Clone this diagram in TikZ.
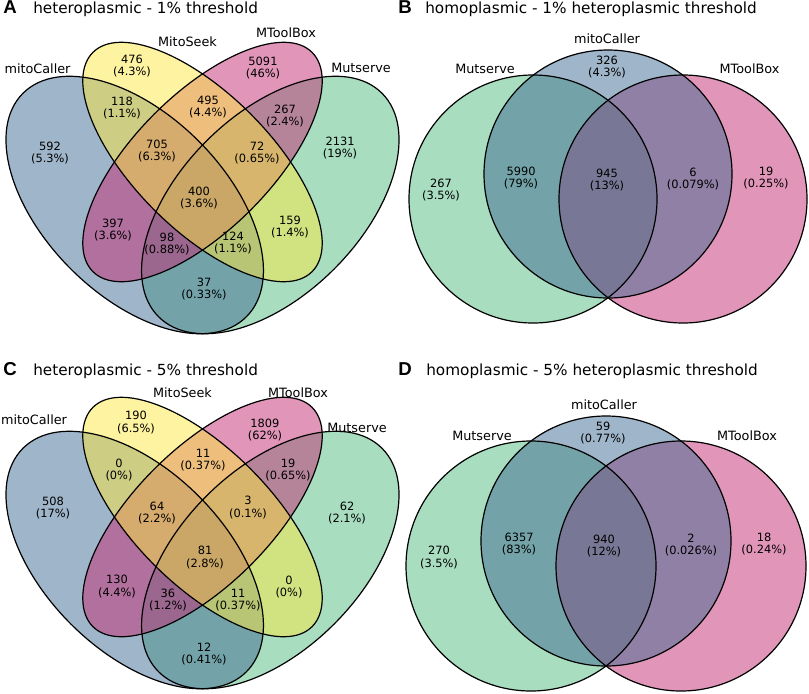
\documentclass[tikz,border=0pt]{standalone}
\usepackage{fontspec}
\setmainfont{DejaVu Sans}
\newfontfamily\letrafont{Liberation Sans}
\definecolor{verde}{RGB}{81,187,129}
\definecolor{azul}{RGB}{63,107,147}
\definecolor{rosa}{RGB}{195,45,115}
\definecolor{amarillo}{RGB}{251,231,65}
\begin{document}
\begin{tikzpicture}[x=0.75pt,y=0.75pt,
  borde/.style={black,line width=0.9pt},
  relleno/.style={fill opacity=0.5},
  cuenta/.style={font=\fontsize{8.55}{9.1}\selectfont,align=center,inner sep=0pt},
  nombre/.style={font=\fontsize{9.6}{10}\selectfont,inner sep=0pt},
  titulo/.style={font=\fontsize{11.45}{12}\selectfont,anchor=base west,inner sep=0pt},
  letra/.style={font=\letrafont\bfseries\fontsize{14}{14}\selectfont,anchor=base west,inner sep=0pt}]
\useasboundingbox (0,0) rectangle (809,-693);
% Elipses (A y C)
\foreach \dy in {0,355} {
  \fill[verde,relleno,rotate around={45:(270.3,-205-\dy)}] (270.3,-205-\dy) ellipse [x radius=158,y radius=90.4];
  \fill[azul,relleno,rotate around={-45:(134.7,-205-\dy)}] (134.7,-205-\dy) ellipse [x radius=158,y radius=90.4];
  \fill[rosa,relleno,rotate around={45:(202.5,-162-\dy)}] (202.5,-162-\dy) ellipse [x radius=155,y radius=68];
  \fill[amarillo,relleno,rotate around={-45:(202.5,-162-\dy)}] (202.5,-162-\dy) ellipse [x radius=155,y radius=68];
  % bordes
  \draw[borde,rotate around={45:(270.3,-205-\dy)}] (270.3,-205-\dy) ellipse [x radius=158,y radius=90.4];
  \draw[borde,rotate around={-45:(134.7,-205-\dy)}] (134.7,-205-\dy) ellipse [x radius=158,y radius=90.4];
  \draw[borde,rotate around={45:(202.5,-162-\dy)}] (202.5,-162-\dy) ellipse [x radius=155,y radius=68];
  \draw[borde,rotate around={-45:(202.5,-162-\dy)}] (202.5,-162-\dy) ellipse [x radius=155,y radius=68];
}
% Circulos (B y D)
\foreach \dx/\dy/\r in {0/0/124,-2/367/125} {
  \fill[verde,relleno] (533+\dx,-199-\dy) circle (\r);
  \fill[rosa,relleno] (683+\dx,-199-\dy) circle (\r);
  \fill[azul,relleno] (608+\dx,-174-\dy) circle (\r);
  \draw[borde] (533+\dx,-199-\dy) circle (\r);
  \draw[borde] (683+\dx,-199-\dy) circle (\r);
  \draw[borde] (608+\dx,-174-\dy) circle (\r);
}
% Titulos
\node[letra] (letA) at (3,-13) {A};
\node[titulo] (titA) at (33,-13) {heteroplasmic - 1\% threshold};
\node[letra] (letB) at (398,-13) {B};
\node[titulo] (titB) at (425,-13) {homoplasmic - 1\% heteroplasmic threshold};
\node[letra] (letC) at (3,-375) {C};
\node[titulo] (titC) at (33,-375) {heteroplasmic - 5\% threshold};
\node[letra] (letD) at (398,-375) {D};
\node[titulo] (titD) at (426,-375) {homoplasmic - 5\% heteroplasmic threshold};
% Nombres
\node[nombre] (A-mc) at (37.5,-69) {mitoCaller};
\node[nombre] (A-ms) at (187.5,-42) {MitoSeek};
\node[nombre] (A-mt) at (286,-33) {MToolBox};
\node[nombre] (A-mu) at (361,-68) {Mutserve};
\node[nombre] (B-mc) at (607,-39) {mitoCaller};
\node[nombre] (B-mu) at (485,-69) {Mutserve};
\node[nombre] (B-mt) at (749.5,-69) {MToolBox};
\node[nombre] (C-mc) at (34,-420) {mitoCaller};
\node[nombre] (C-ms) at (182.5,-393) {MitoSeek};
\node[nombre] (C-mt) at (298,-393) {MToolBox};
\node[nombre] (C-mu) at (357,-428) {Mutserve};
\node[nombre] (D-mc) at (604,-405) {mitoCaller};
\node[nombre] (D-mu) at (482,-436) {Mutserve};
\node[nombre] (D-mt) at (747,-436) {MToolBox};
% Cuentas A
\foreach \x/\y/\n/\p [count=\i] in {132/66/476/4.3, 122/108/118/1.1, 263/68/5091/46,
    208/107/495/4.4, 285/116/267/2.4, 50/153/592/5.3, 157/151/705/6.3, 257/153/72/0.65,
    340/148/2131/19, 199/198/400/3.6, 113/230/397/3.6, 167/244/98/0.88, 233/243/124/1.1,
    290/227/159/1.4, 204/289/37/0.33}
  \node[cuenta] (A-\i) at (\x,-\y) {\n\\(\p\%)};
% Cuentas B
\foreach \x/\y/\n/\p [count=\i] in {607/67/326/4.3, 441/190/267/3.5, 521/178/5990/79,
    607/180/945/13, 693/179/6/0.079, 766/178/19/0.25}
  \node[cuenta] (B-\i) at (\x,-\y) {\n\\(\p\%)};
% Cuentas C
\foreach \x/\y/\n/\p [count=\i] in {136/422.5/190/6.5, 265/430/1809/62, 119/470/0/0,
    203/460/11/0.37, 288/470/19/0.65, 53/508/508/17, 157/513/64/2.2, 248/507.5/3/0.1,
    347/513/62/2.1, 205/557.5/81/2.8, 117/586.5/130/4.4, 168/600/36/1.2, 238/600/11/0.37,
    289/586.6/0/0, 204/653.7/12/0.41}
  \node[cuenta] (C-\i) at (\x,-\y) {\n\\(\p\%)};
% Cuentas D
\foreach \x/\y/\n/\p [count=\i] in {603/433/59/0.77, 439/557.5/270/3.5, 519/544/6357/83,
    604/546/940/12, 691/545/2/0.026, 764/544/18/0.24}
  \node[cuenta] (D-\i) at (\x,-\y) {\n\\(\p\%)};
\end{tikzpicture}
\end{document}
